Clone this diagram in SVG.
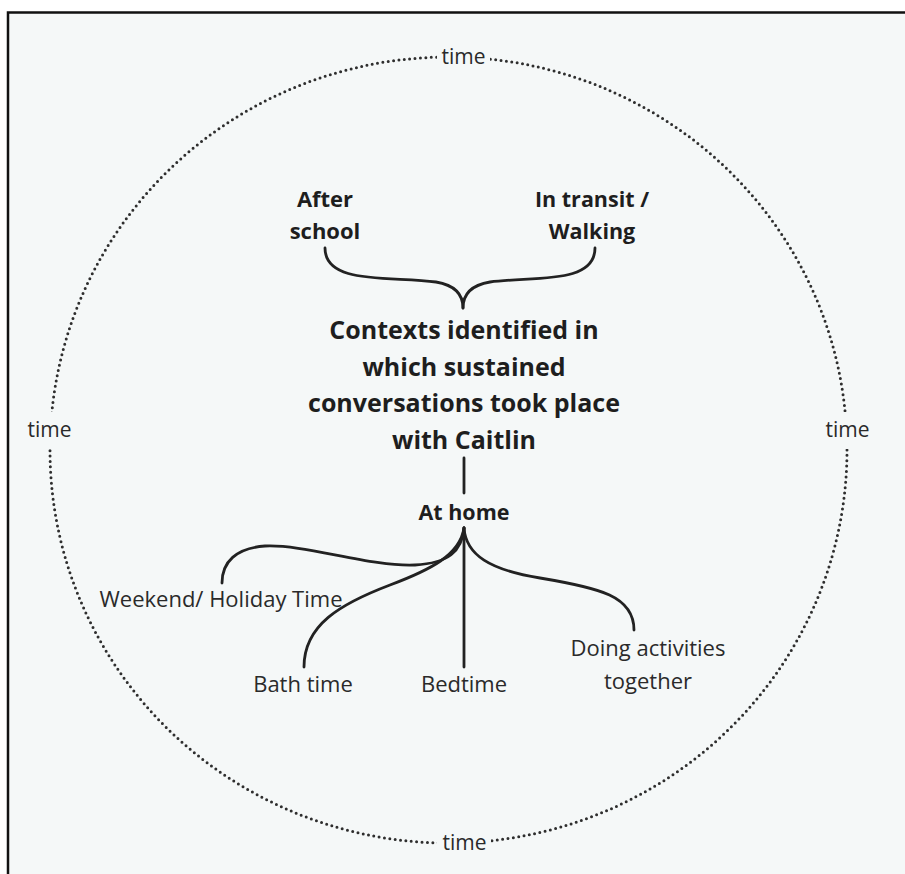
<svg xmlns="http://www.w3.org/2000/svg" width="905" height="874" viewBox="0 0 905 874">
  <style>
    .bold { font-family: "Open Sans", "Liberation Sans", sans-serif; font-weight: 700; fill: #1e1e1e; text-anchor: middle; }
    .reg { font-family: "Open Sans", "Liberation Sans", sans-serif; font-weight: 400; fill: #2a2a2a; text-anchor: middle; }
    .link { fill: none; stroke: #222; stroke-width: 2.8; stroke-linecap: round; }
    .ring { fill: none; stroke: #2e2e2e; stroke-width: 3; stroke-linecap: round; stroke-dasharray: 0 5.4; }
    .gap { fill: #f5f8f8; }
  </style>

  <!-- page and frame -->
  <rect x="0" y="0" width="905" height="874" fill="#ffffff"/>
  <rect x="8" y="12.5" width="1000" height="1000" fill="#f5f8f8" stroke="#111" stroke-width="2.5"/>

  <!-- dotted time ring -->
  <g id="time-ring">
    <ellipse class="ring" cx="448.5" cy="450" rx="398.5" ry="393"/>
    <rect class="gap" x="437" y="43" width="53" height="28"/>
    <rect class="gap" x="437" y="829" width="54" height="28"/>
    <rect class="gap" x="22" y="412" width="56" height="37"/>
    <rect class="gap" x="819" y="412" width="56" height="37"/>
    <text class="reg" x="463.5" y="64" font-size="21">time</text>
    <text class="reg" x="464.5" y="850" font-size="21">time</text>
    <text class="reg" x="49.5" y="437" font-size="21">time</text>
    <text class="reg" x="847.5" y="437" font-size="21">time</text>
  </g>

  <!-- connectors -->
  <g id="connectors">
    <path class="link" d="M325,248 C325,285 390,276 436,282 C454,285 463,294 463,308"/>
    <path class="link" d="M595,248 C595,285 532,276 490,282 C472,285 463,294 463,308"/>
    <path class="link" d="M464,458 L464,493"/>
    <path class="link" d="M464,528 C462,552 448,563 415,565 C370,567 305,544 265,546 C236,548 222,562 222,583"/>
    <path class="link" d="M464,528 C460,555 430,570 390,585 C340,604 304,625 304,667"/>
    <path class="link" d="M464,528 L464,667"/>
    <path class="link" d="M464,528 C466,555 490,570 540,578 C600,588 634,596 634,630"/>
  </g>

  <!-- nodes -->
  <g id="after-school">
    <text class="bold" x="325" y="207" font-size="22">After</text>
    <text class="bold" x="325" y="239" font-size="22">school</text>
  </g>
  <g id="in-transit">
    <text class="bold" x="592" y="207" font-size="21.5">In transit /</text>
    <text class="bold" x="592" y="239" font-size="21.5">Walking</text>
  </g>
  <g id="contexts">
    <text class="bold" x="464" y="339" font-size="25">Contexts identified in</text>
    <text class="bold" x="464" y="375.5" font-size="25">which sustained</text>
    <text class="bold" x="464" y="412" font-size="25">conversations took place</text>
    <text class="bold" x="464" y="448.5" font-size="25">with Caitlin</text>
  </g>
  <g id="at-home">
    <text class="bold" x="464" y="519.5" font-size="21.5">At home</text>
  </g>
  <g id="weekend">
    <text class="reg" x="221" y="607" font-size="22">Weekend/ Holiday Time</text>
  </g>
  <g id="bath-time">
    <text class="reg" x="303" y="692" font-size="22">Bath time</text>
  </g>
  <g id="bedtime">
    <text class="reg" x="464" y="692" font-size="22">Bedtime</text>
  </g>
  <g id="doing-activities">
    <text class="reg" x="648" y="656" font-size="22">Doing activities</text>
    <text class="reg" x="648" y="689" font-size="22">together</text>
  </g>
</svg>
